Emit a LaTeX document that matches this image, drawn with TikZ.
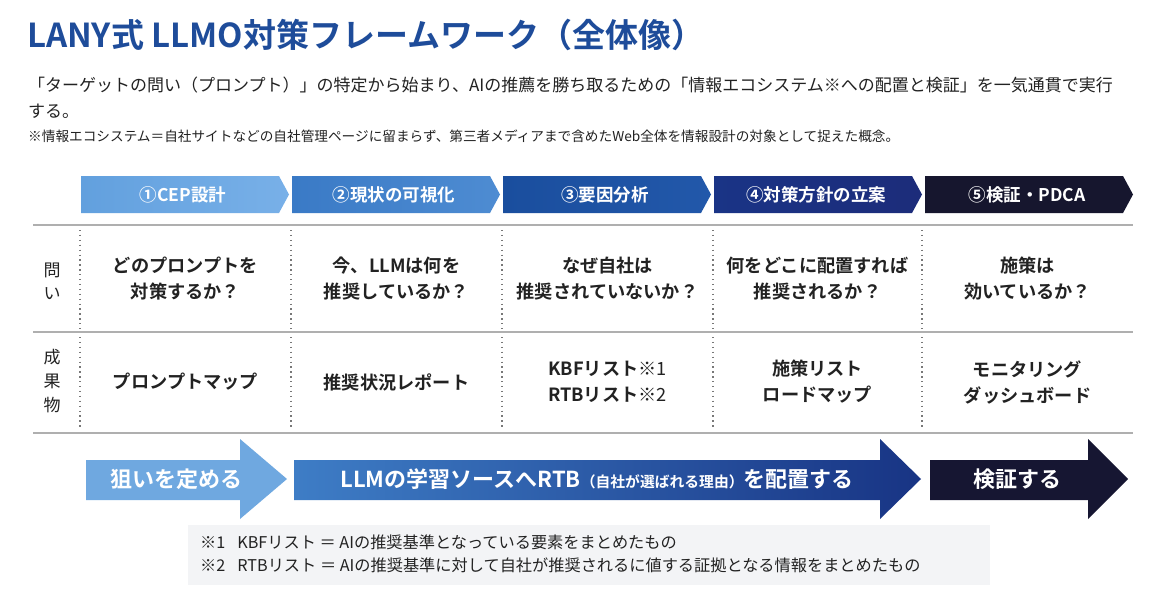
\documentclass[tikz,border=0pt]{standalone}
\usepackage{fontspec}
\setmainfont{Noto Sans CJK JP}[BoldFont={Noto Sans CJK JP Bold}]
\newcommand\fsz[2]{\fontsize{#1}{#2}\selectfont}
\definecolor{titleblue}{RGB}{30,76,154}
\definecolor{txt}{RGB}{34,34,34}
\definecolor{rule}{RGB}{175,175,175}
\definecolor{dots}{RGB}{120,120,120}
\definecolor{cA}{RGB}{98,160,222}
\definecolor{cAr}{RGB}{120,176,232}
\definecolor{cB}{RGB}{58,122,198}
\definecolor{cBr}{RGB}{78,140,210}
\definecolor{cC}{RGB}{26,78,158}
\definecolor{cCr}{RGB}{34,88,170}
\definecolor{cD}{RGB}{26,52,134}
\definecolor{cDr}{RGB}{28,44,122}
\definecolor{cE}{RGB}{22,22,46}
\definecolor{arA}{RGB}{111,168,224}
\definecolor{arBl}{RGB}{62,125,198}
\definecolor{arBr}{RGB}{24,52,132}
\definecolor{arC}{RGB}{22,22,50}
\definecolor{notebg}{RGB}{243,244,246}
\tikzset{
  hdrtext/.style={text=white,font=\bfseries\fsz{17.5}{20}},
  celltext/.style={text=txt,font=\bfseries\fsz{18.2}{26},align=center},
  rowlabel/.style={text=txt,font=\fsz{17}{23},align=center},
  hrule/.style={draw=rule,line width=1.5pt},
  vdots/.style={draw=dots,line width=1.3pt,dash pattern=on 1.3pt off 3.6pt},
  arrowtext/.style={text=white,font=\bfseries\fsz{22}{24}},
  plain/.style={anchor=base west,inner sep=0,text=txt},
}
\begin{document}
\begin{tikzpicture}[x=1pt,y=-1pt]
\useasboundingbox (0,0) rectangle (1156,594);
\fill[white] (0,0) rectangle (1156,594);
% title and intro
\node[plain,text=titleblue,font=\bfseries\fsz{33}{36}] (title) at (27,48) {LANY式 LLMO対策フレームワーク（全体像）};
\node[plain,font=\fsz{17}{25}] (intro1) at (28,92) {「ターゲットの問い（プロンプト）」の特定から始まり、AIの推薦を勝ち取るための「情報エコシステム※への配置と検証」を一気通貫で実行};
\node[plain,font=\fsz{17}{25}] (intro2) at (28,117) {する。};
\node[plain,font=\fsz{13.65}{16}] (note) at (28,141) {※情報エコシステム＝自社サイトなどの自社管理ページに留まらず、第三者メディアまで含めたWeb全体を情報設計の対象として捉えた概念。};
% header chevrons
\foreach \i/\cl/\cr/\lab in {1/cA/cAr/①CEP設計,2/cB/cBr/②現状の可視化,3/cC/cCr/③要因分析,4/cD/cDr/④対策方針の立案,5/cE/cE/⑤検証・PDCA}{
  \pgfmathsetmacro\xo{81+211*(\i-1)}
  \shade[left color=\cl,right color=\cr] (\xo,176) -- (\xo+198,176) -- (\xo+208,194.5) -- (\xo+198,213) -- (\xo,213) -- cycle;
  \node[hdrtext] (h\i) at (\xo+102,194.5) {\lab};
}
% table rules
\coordinate (r1l) at (33,225); \coordinate (r1r) at (1133,225);
\coordinate (r2l) at (33,332); \coordinate (r2r) at (1133,332);
\coordinate (r3l) at (33,433); \coordinate (r3r) at (1133,433);
\draw[hrule] (r1l) -- (r1r);
\draw[hrule] (r2l) -- (r2r);
\draw[hrule] (r3l) -- (r3r);
\foreach \x [count=\k] in {80,291,502,713,922}{
  \coordinate (va\k) at (\x,230); \coordinate (vb\k) at (\x,329);
  \coordinate (vc\k) at (\x,337); \coordinate (vd\k) at (\x,430);
  \draw[vdots] (va\k) -- (vb\k);
  \draw[vdots] (vc\k) -- (vd\k);
}
% row labels
\node[rowlabel] (lq) at (52,281) {問\\い};
\node[rowlabel,font=\fsz{17}{24}] (lo) at (52,381) {成\\果\\物};
% row 1
\node[celltext] (q1) at (185.5,279) {どのプロンプトを\\対策するか？};
\node[celltext] (q2) at (396.5,279) {今、LLMは何を\\推奨しているか？};
\node[celltext] (q3) at (607.5,279) {なぜ自社は\\推奨されていないか？};
\node[celltext] (q4) at (817.5,279) {何をどこに配置すれば\\推奨されるか？};
\node[celltext] (q5) at (1027.5,279) {施策は\\効いているか？};
% row 2
\node[celltext] (o1) at (185.5,382) {プロンプトマップ};
\node[celltext] (o2) at (396.5,382) {推奨状況レポート};
\node[celltext] (o3) at (607.5,382) {KBFリスト{\mdseries ※1}\\RTBリスト{\mdseries ※2}};
\node[celltext] (o4) at (817.5,382) {施策リスト\\ロードマップ};
\node[celltext] (o5) at (1027.5,382) {モニタリング\\ダッシュボード};
% bottom arrows
\fill[arA] (86,460) -- (240,460) -- (240,439) -- (287,479) -- (240,519) -- (240,500) -- (86,500) -- cycle;
\shade[left color=arBl,right color=arBr] (294,460) -- (880,460) -- (880,439) -- (921,479) -- (880,519) -- (880,500) -- (294,500) -- cycle;
\fill[arC] (930,460) -- (1088,460) -- (1088,439) -- (1128,479) -- (1088,519) -- (1088,500) -- (930,500) -- cycle;
\node[arrowtext] (a1) at (176,479) {狙いを定める};
\node[arrowtext] (a2) at (597,479) {LLMの学習ソースへRTB{\fsz{14.8}{15}（自社が選ばれる理由）}を配置する};
\node[arrowtext] (a3) at (1017,479) {検証する};
% footnote box
\fill[notebg] (188,525) rectangle (990,585);
\node[plain,font=\fsz{16.2}{18}] (n1) at (200,548) {※1\hspace{12pt}KBFリスト ＝ AIの推奨基準となっている要素をまとめたもの};
\node[plain,font=\fsz{16.2}{18}] (n2) at (200,571) {※2\hspace{12pt}RTBリスト ＝ AIの推奨基準に対して自社が推奨されるに値する証拠となる情報をまとめたもの};
\end{tikzpicture}
\end{document}
